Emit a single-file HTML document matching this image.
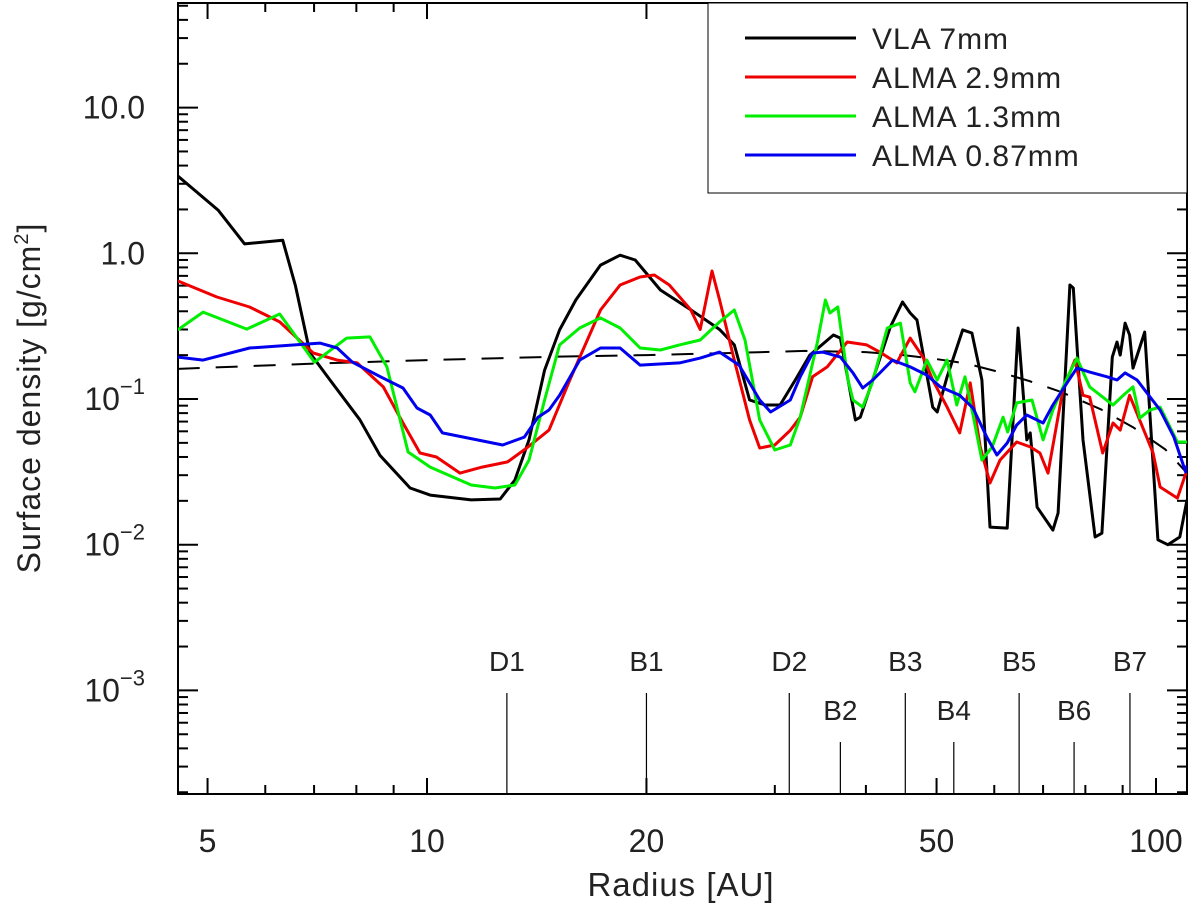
<!DOCTYPE html>
<html><head><meta charset="utf-8">
<style>
html,body{margin:0;padding:0;background:#fff;}
svg{display:block;font-family:"Liberation Sans",sans-serif;}
</style></head>
<body>
<svg id="chart" width="1200" height="914" viewBox="0 0 1200 914" xmlns="http://www.w3.org/2000/svg">
<rect x="178" y="3" width="1009" height="791" fill="none" stroke="#000" stroke-width="2"/>
<g id="ticks"></g>
<g id="labels"></g>
<g id="series"></g>
<g id="markers"></g>
<text x="681" y="896" font-size="33" text-anchor="middle" fill="#222" letter-spacing="1">Radius [AU]</text>
<text transform="translate(40,398) rotate(-90)" font-size="32" text-anchor="middle" fill="#222" letter-spacing="1">Surface density [g/cm<tspan dy="-12" font-size="20">2</tspan><tspan dy="12">]</tspan></text>
<g>
<rect x="708" y="3" width="479" height="190" fill="#fff" stroke="#000" stroke-width="1"/>
</g>
<g id="legend"></g>
</svg>
<script>
const X0=178, X1=1187, Y0=794, Y1=3;
function xs(r){return 427+(Math.log10(r)-1)*729;}
function ys(v){return 399-(Math.log10(v)+1)*145.7;}

const vlaR=[4.55,5.17,5.62,6.34,6.6,6.91,7.36,8.09,8.62,9.48,10.1,11.5,12.6,13.2,13.8,14.5,15.2,16.0,17.3,18.4,19.3,20.9,23.0,25.2,26.4,27.7,29.1,30.5,32.0,33.5,36.1,36.9,38.7,39.3,43.2,44.9,46.0,47.0,49.4,50.1,51.7,54.3,55.9,57.7,59.2,62.5,64.7,66.5,67.2,68.7,72.2,73.4,76.2,77.0,79.4,82.5,84.3,87.1,88.4,89.3,90.7,92.0,93.0,96.5,100.6,103.8,107.8,110.3];
const vlaV=[3.40,1.98,1.16,1.23,0.6,0.207,0.135,0.072,0.041,0.0245,0.0219,0.0203,0.0206,0.0278,0.0524,0.158,0.298,0.478,0.83,0.97,0.90,0.56,0.41,0.30,0.235,0.0985,0.091,0.091,0.135,0.2,0.275,0.262,0.0718,0.075,0.312,0.463,0.389,0.348,0.088,0.0814,0.142,0.298,0.284,0.135,0.0132,0.013,0.307,0.0524,0.0585,0.0181,0.0126,0.0165,0.606,0.578,0.0524,0.0113,0.012,0.194,0.246,0.200,0.332,0.275,0.163,0.288,0.0108,0.010,0.0113,0.0203];

const r29R=[4.55,5.15,5.71,6.28,6.98,7.53,8.02,8.71,9.27,9.78,10.3,11.1,11.9,12.9,13.7,14.7,15.7,17.3,18.4,19.6,20.5,21.5,23.0,23.7,24.6,25.2,26.4,27.7,28.6,30.0,31.5,32.5,33.8,35.4,37.7,40.1,41.8,44.1,46.0,47.9,49.4,51.7,53.8,55.6,57.4,59.2,61.1,64.4,67.2,69.3,71.1,74.5,77.4,79.4,81.1,84.5,87.3,89.3,92.0,99.1,101.3,107.0,110.3];
const r29V=[0.646,0.501,0.428,0.338,0.207,0.185,0.177,0.121,0.0684,0.0426,0.040,0.031,0.0341,0.037,0.0461,0.0612,0.135,0.408,0.606,0.688,0.71,0.606,0.41,0.30,0.756,0.478,0.185,0.0718,0.0461,0.0483,0.061,0.075,0.142,0.166,0.246,0.235,0.21,0.177,0.262,0.194,0.135,0.088,0.0585,0.129,0.0469,0.0265,0.0381,0.0507,0.0469,0.0426,0.031,0.115,0.185,0.106,0.103,0.0426,0.0684,0.0612,0.106,0.0426,0.0249,0.0209,0.0326];

const r13R=[4.55,4.93,5.66,6.28,7.01,7.76,8.35,8.81,9.42,10.1,11.5,12.4,13.2,13.8,14.5,15.2,16.2,17.3,18.4,19.6,20.9,22.2,23.7,25.2,26.4,27.3,28.6,30.0,31.5,32.5,34.3,35.2,35.7,36.6,37.8,38.4,39.6,40.8,42.8,44.6,46.0,46.7,48.5,50.1,51.7,53.3,54.7,56.1,57.7,59.6,61.7,62.6,64.4,67.6,70.0,72.2,75.5,77.9,81.1,84.5,87.3,90.2,93.0,95.0,98.1,101.3,107.0,110.3];
const r13V=[0.298,0.395,0.302,0.383,0.179,0.262,0.267,0.166,0.0433,0.0341,0.0257,0.0245,0.0257,0.0381,0.0985,0.235,0.307,0.360,0.307,0.224,0.217,0.235,0.254,0.338,0.408,0.254,0.0718,0.0447,0.0483,0.075,0.242,0.478,0.389,0.428,0.135,0.0985,0.088,0.129,0.307,0.332,0.129,0.112,0.185,0.135,0.185,0.091,0.142,0.0777,0.0381,0.0469,0.075,0.0594,0.094,0.0985,0.0524,0.084,0.139,0.191,0.121,0.103,0.091,0.106,0.121,0.074,0.084,0.088,0.0507,0.0507];

const r087R=[4.55,4.93,5.71,7.13,7.53,7.9,8.71,9.27,9.69,10.1,10.5,12.7,13.6,14.2,14.7,15.2,16.2,17.3,18.4,19.6,22.2,23.7,25.2,26.8,28.6,29.6,31.5,32.5,33.8,34.9,36.9,38.4,39.6,40.9,43.5,46.0,48.5,50.6,53.8,56.1,58.6,60.5,62.5,64.4,66.5,70.0,72.2,75.5,77.9,81.1,85.7,88.4,90.7,94.2,97.2,101.3,105.8,109.8,110.3];
const r087V=[0.194,0.185,0.224,0.242,0.224,0.179,0.139,0.119,0.0868,0.0777,0.0585,0.0483,0.0548,0.075,0.084,0.106,0.185,0.224,0.224,0.171,0.177,0.191,0.21,0.171,0.0985,0.0814,0.0985,0.142,0.207,0.21,0.194,0.151,0.119,0.135,0.185,0.166,0.146,0.121,0.106,0.0868,0.0548,0.0413,0.0499,0.0663,0.0777,0.0684,0.091,0.129,0.163,0.153,0.142,0.135,0.151,0.135,0.11,0.084,0.0548,0.0316,0.035];

const modelR=[4.55,7,10,15,20,27,33,40,45,50,55,61,67,74,84,93,103,110.3];
const modelV=[0.161,0.175,0.185,0.195,0.2,0.208,0.214,0.21,0.2,0.188,0.175,0.153,0.133,0.112,0.085,0.064,0.045,0.031];

const xMajor=[5,10,20,50,100];
const xMajorLabels=["5","10","20","50","100"];
const xMinor=[6,7,8,9,30,40,60,70,80,90];
const yDecades=[-3,-2,-1,0,1];
const yLabelBase=["10","10","10","1.0","10.0"];
const yLabelExp=["\u22123","\u22122","\u22121","",""];

const ringNames=["D1","B1","D2","B2","B3","B4","B5","B6","B7"];
const ringR=[12.87,20.0,31.4,36.9,45.3,52.8,64.9,77.2,92.1];
const ringTall=[true,true,true,false,true,false,true,false,true];

const NS="http://www.w3.org/2000/svg";
function mk(tag,attrs,parent){const e=document.createElementNS(NS,tag);for(const k in attrs)e.setAttribute(k,attrs[k]);parent.appendChild(e);return e;}
const tg=document.getElementById('ticks'), lg=document.getElementById('labels'), sg=document.getElementById('series'), mg=document.getElementById('markers');

xMajor.forEach((r,i)=>{const x=xs(r);
 let t=mk('line',{x1:x,x2:x,y1:Y0,y2:Y0-16,stroke:'#000','stroke-width':2},tg);
 
 
 t=mk('line',{x1:x,x2:x,y1:Y1,y2:Y1+16,stroke:'#000','stroke-width':2},tg);
 
 
 const l=mk('text',{x:x,y:852,'font-size':32,'text-anchor':'middle',fill:'#222'},lg);l.textContent=xMajorLabels[i];
 
 
});
xMinor.forEach(r=>{const x=xs(r);
 let t=mk('line',{x1:x,x2:x,y1:Y0,y2:Y0-9,stroke:'#000','stroke-width':2},tg);
 
 
 t=mk('line',{x1:x,x2:x,y1:Y1,y2:Y1+9,stroke:'#000','stroke-width':2},tg);
 
 
});
yDecades.forEach((d,i)=>{
 for(let m=1;m<=9;m++){const v=m*Math.pow(10,d);const y=ys(v);if(y<Y1||y>Y0)continue;
  const len=m===1?20:10;
  let t=mk('line',{x1:X0,x2:X0+len,y1:y,y2:y,stroke:'#000','stroke-width':2},tg);
  
  
  t=mk('line',{x1:X1,x2:X1-len,y1:y,y2:y,stroke:'#000','stroke-width':2},tg);
  
  
 }
 const y=ys(Math.pow(10,d));
 const l=mk('text',{x:145,y:y+11,'font-size':32,'text-anchor':'end',fill:'#222'},lg);
 l.textContent=yLabelBase[i];
 if(yLabelExp[i]){const s=mk('tspan',{dy:-16,'font-size':22},l);s.textContent=yLabelExp[i];}
 
 
});
for(let m=2;m<=9;m++){const y=ys(m*1e-4);if(y>Y0)continue;
 let t=mk('line',{x1:X0,x2:X0+10,y1:y,y2:y,stroke:'#000','stroke-width':2},tg);
 
 
 t=mk('line',{x1:X1,x2:X1-10,y1:y,y2:y,stroke:'#000','stroke-width':2},tg);
 
 
}

function path(R,V,color,name,dash){
 const d=R.map((r,i)=>(i?'L':'M')+xs(r).toFixed(1)+','+ys(V[i]).toFixed(1)).join('');
 const p=mk('path',{d:d,fill:'none',stroke:color,'stroke-width':dash?2:3,'stroke-linejoin':'round'},sg);
 if(dash)p.setAttribute('stroke-dasharray','22,16');
 
 
}
const clip=mk('clipPath',{id:'pc'},document.getElementById('chart'));
mk('rect',{x:X0,y:Y1,width:X1-X0,height:Y0-Y1},clip);
sg.setAttribute('clip-path','url(#pc)');
path(modelR,modelV,'#000','model-dashed-line',true);
path(vlaR,vlaV,'#000','vla-7mm-line');
path(r29R,r29V,'#ee0000','alma-2.9mm-line');
path(r13R,r13V,'#00ee00','alma-1.3mm-line');
path(r087R,r087V,'#0000ee','alma-0.87mm-line');

ringNames.forEach((n,i)=>{const x=xs(ringR[i]);const top=ringTall[i]?693:742;
 const l=mk('line',{x1:x,x2:x,y1:top,y2:Y0,stroke:'#000','stroke-width':1.2},mg);
 
 
 const t=mk('text',{x:x,y:top-22,'font-size':28,'text-anchor':'middle',fill:'#222'},mg);t.textContent=n;
 
 
});

const legNames=["VLA 7mm","ALMA 2.9mm","ALMA 1.3mm","ALMA 0.87mm"];
const legColors=["#000","#ee0000","#00ee00","#0000ee"];
const lgG=document.getElementById('legend');
legNames.forEach((n,i)=>{const y=38+i*39;
 const l=mk('line',{x1:745,x2:856,y1:y,y2:y,stroke:legColors[i],'stroke-width':3},lgG);
 
 
 const t=mk('text',{x:872,y:y+11,'font-size':30,fill:'#222','letter-spacing':'1'},lgG);t.textContent=n;
 
 
});
</script>
</body></html>
